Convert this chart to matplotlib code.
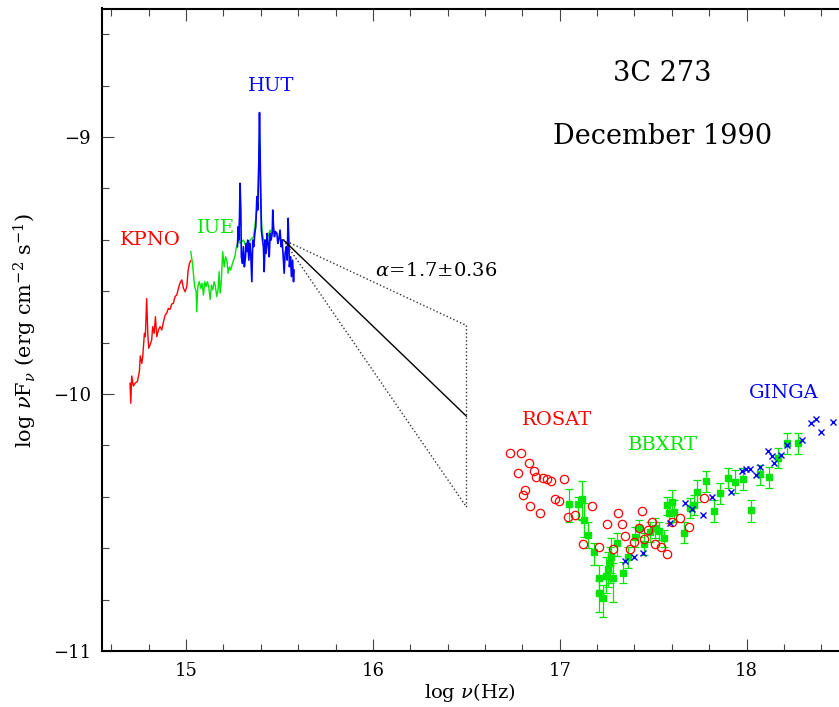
import matplotlib
matplotlib.use("Agg")
import matplotlib.pyplot as plt
from matplotlib.ticker import MultipleLocator, FixedLocator
import numpy as np

plt.rcParams['font.family'] = ['DejaVu Serif']
plt.rcParams['mathtext.fontset'] = 'dejavuserif'

RED = '#ff0000'
GREEN = '#00e600'
BLUE = '#0000ff'

# ---------------- data ----------------
kpno_x = [14.700, 14.704, 14.709, 14.718, 14.727, 14.739, 14.750, 14.755, 14.763, 14.768,
          14.777, 14.782, 14.789, 14.795, 14.800, 14.807, 14.816, 14.821, 14.829, 14.836,
          14.843, 14.852, 14.861, 14.870, 14.879, 14.888, 14.896, 14.905, 14.914, 14.923,
          14.932, 14.941, 14.950, 14.959, 14.968, 14.977, 14.986, 14.995, 15.004, 15.011,
          15.018, 15.025]
kpno_y = [-9.958, -10.036, -9.930, -9.969, -9.958, -9.952, -9.913, -9.852, -9.881, -9.855,
          -9.764, -9.777, -9.629, -9.764, -9.822, -9.809, -9.790, -9.738, -9.764, -9.699,
          -9.777, -9.751, -9.738, -9.751, -9.719, -9.693, -9.686, -9.667, -9.671, -9.650,
          -9.647, -9.621, -9.615, -9.589, -9.567, -9.556, -9.589, -9.602, -9.582, -9.518,
          -9.492, -9.481]

iue_x = [15.025, 15.032, 15.039, 15.046, 15.054, 15.057, 15.063, 15.071, 15.079, 15.086,
         15.093, 15.100, 15.107, 15.114, 15.121, 15.129, 15.136, 15.143, 15.150, 15.157,
         15.164, 15.171, 15.177, 15.182, 15.189, 15.196, 15.204, 15.211, 15.218, 15.225,
         15.232, 15.239, 15.246, 15.254, 15.261, 15.268, 15.275, 15.282,
         15.289, 15.307, 15.325, 15.343, 15.361, 15.379, 15.386, 15.393, 15.398, 15.405,
         15.414, 15.432, 15.450, 15.459]
iue_y = [-9.446, -9.479, -9.530, -9.582, -9.602, -9.680, -9.582, -9.563, -9.589, -9.569,
         -9.615, -9.563, -9.582, -9.563, -9.582, -9.632, -9.576, -9.595, -9.563, -9.582,
         -9.621, -9.595, -9.524, -9.608, -9.556, -9.446, -9.505, -9.466, -9.479, -9.530,
         -9.505, -9.518, -9.498, -9.479, -9.466, -9.433, -9.414, -9.401,
         -9.414, -9.401, -9.433, -9.401, -9.388, -9.284, -9.180, -8.986, -9.180, -9.349,
         -9.401, -9.401, -9.362, -9.375]

hut_x = [15.275, 15.279, 15.282, 15.286, 15.289, 15.293, 15.296, 15.302, 15.307, 15.312,
         15.318, 15.321, 15.325, 15.330, 15.336, 15.341, 15.346, 15.352, 15.357, 15.362,
         15.368, 15.373, 15.379, 15.384, 15.389, 15.393, 15.396, 15.400, 15.403, 15.409,
         15.414, 15.418, 15.423, 15.428, 15.434, 15.439, 15.445, 15.450, 15.455, 15.461,
         15.464, 15.468, 15.473, 15.478, 15.486, 15.491, 15.496, 15.503, 15.509, 15.514,
         15.520, 15.525, 15.530, 15.536, 15.541, 15.546, 15.550, 15.553, 15.559, 15.564,
         15.570, 15.575, 15.578]
hut_y = [-9.427, -9.349, -9.401, -9.310, -9.180, -9.284, -9.466, -9.492, -9.427, -9.505,
         -9.466, -9.414, -9.446, -9.401, -9.479, -9.414, -9.453, -9.563, -9.401, -9.427,
         -9.375, -9.349, -9.232, -9.284, -9.115, -8.905, -9.051, -9.245, -9.362, -9.401,
         -9.427, -9.524, -9.401, -9.453, -9.375, -9.414, -9.466, -9.375, -9.401, -9.375,
         -9.284, -9.349, -9.388, -9.368, -9.375, -9.414, -9.401, -9.362, -9.427, -9.401,
         -9.466, -9.530, -9.453, -9.427, -9.479, -9.316, -9.401, -9.505, -9.466, -9.543,
         -9.479, -9.563, -9.518]

# power law fit
pl_pivot_x = 15.52
pl_pivot_y = -9.40
pl_end_x = 16.5
pl_alpha = 1.7
pl_alpha_err = 0.36

rosat_x = [16.735, 16.793, 16.833, 16.775, 16.860, 16.873, 16.911, 16.932, 16.955, 17.025,
           16.812, 16.803, 16.973, 16.994, 16.843, 16.892, 17.042, 17.084, 17.173, 17.312,
           17.253, 17.334, 17.442, 17.123, 17.212, 17.283, 17.351, 17.374, 17.400, 17.426,
           17.449, 17.475, 17.492, 17.512, 17.543, 17.575, 17.642, 17.601, 17.690, 17.771]
rosat_y = [-10.228, -10.231, -10.270, -10.306, -10.298, -10.322, -10.326, -10.332, -10.337, -10.332,
           -10.374, -10.393, -10.407, -10.416, -10.436, -10.464, -10.477, -10.471, -10.436, -10.464,
           -10.506, -10.506, -10.456, -10.585, -10.594, -10.604, -10.553, -10.604, -10.575, -10.523,
           -10.565, -10.529, -10.497, -10.584, -10.594, -10.623, -10.484, -10.497, -10.516, -10.406]

bbxrt_x = [17.052, 17.096, 17.119, 17.130, 17.149, 17.182, 17.208, 17.208, 17.232, 17.246,
           17.257, 17.267, 17.276, 17.283, 17.307, 17.337, 17.364, 17.405, 17.426, 17.449,
           17.485, 17.512, 17.530, 17.557, 17.575, 17.583, 17.601, 17.614, 17.667, 17.696,
           17.717, 17.732, 17.785, 17.824, 17.860, 17.899, 17.940, 17.980, 18.021, 18.074,
           18.119, 18.167, 18.214, 18.274]
bbxrt_y = [-10.429, -10.429, -10.410, -10.490, -10.549, -10.616, -10.717, -10.776, -10.795, -10.708,
           -10.682, -10.659, -10.633, -10.717, -10.581, -10.698, -10.635, -10.555, -10.523, -10.584,
           -10.536, -10.521, -10.532, -10.560, -10.432, -10.464, -10.419, -10.458, -10.542, -10.445,
           -10.432, -10.380, -10.339, -10.455, -10.386, -10.328, -10.342, -10.332, -10.451, -10.312,
           -10.324, -10.250, -10.192, -10.189]
bbxrt_top = [-10.371, -10.400, -10.337, -10.423, -10.497, -10.581, -10.665, -10.724, -10.743, -10.633,
             -10.614, -10.594, -10.561, -10.659, -10.540, -10.653, -10.594, -10.516, -10.490, -10.542,
             -10.497, -10.484, -10.497, -10.529, -10.400, -10.425, -10.374, -10.412, -10.497, -10.406,
             -10.393, -10.335, -10.298, -10.412, -10.347, -10.289, -10.296, -10.289, -10.412, -10.276,
             -10.283, -10.211, -10.151, -10.151]
bbxrt_bot = [-10.497, -10.486, -10.490, -10.555, -10.600, -10.665, -10.776, -10.847, -10.867, -10.776,
             -10.750, -10.737, -10.698, -10.808, -10.630, -10.737, -10.678, -10.594, -10.555, -10.626,
             -10.575, -10.561, -10.568, -10.594, -10.471, -10.503, -10.464, -10.497, -10.581, -10.484,
             -10.471, -10.419, -10.380, -10.497, -10.428, -10.367, -10.386, -10.374, -10.497, -10.354,
             -10.367, -10.289, -10.233, -10.233]

ginga_x = [17.348, 17.396, 17.444, 17.592, 17.672, 17.709, 17.767, 17.816, 17.917, 17.976,
           17.999, 18.017, 18.048, 18.071, 18.114, 18.137, 18.146, 18.185, 18.217, 18.298,
           18.346, 18.369, 18.396, 18.464]
ginga_y = [-10.650, -10.633, -10.620, -10.503, -10.423, -10.449, -10.471, -10.402, -10.380, -10.298,
           -10.293, -10.293, -10.315, -10.285, -10.221, -10.241, -10.267, -10.237, -10.198, -10.179,
           -10.112, -10.098, -10.149, -10.108]

x_ticks = [15, 16, 17, 18]
y_ticks = [-11, -10, -9]

# ---------------- figure ----------------
W, H = 839, 707
fig = plt.figure(figsize=(W / 100, H / 100), dpi=100)
ax = fig.add_axes([102 / W, (H - 651) / H, (840 - 102) / W, (651 - 8.5) / H])
ax.set_xlim(14.55, 18.5)
ax.set_ylim(-11, -8.5)

ax.plot(kpno_x, kpno_y, color=RED, lw=1.0)
ax.plot(iue_x, iue_y, color=GREEN, lw=1.0)
ax.plot(hut_x, hut_y, color=BLUE, lw=1.2)

# power law with error range
xs = np.array([pl_pivot_x, pl_end_x])
for a, ls, c in [(pl_alpha, '-', 'black'),
                 (pl_alpha - pl_alpha_err, ':', '#333333'),
                 (pl_alpha + pl_alpha_err, ':', '#333333')]:
    ax.plot(xs, pl_pivot_y + (1 - a) * (xs - pl_pivot_x), ls=ls, color=c, lw=1.0)
y_up = pl_pivot_y + (1 - (pl_alpha - pl_alpha_err)) * (pl_end_x - pl_pivot_x)
y_lo = pl_pivot_y + (1 - (pl_alpha + pl_alpha_err)) * (pl_end_x - pl_pivot_x)
ax.plot([pl_end_x, pl_end_x], [y_up, y_lo], ls=':', color='#333333', lw=1.0)

# X-ray data
bx = np.array(bbxrt_x)
by = np.array(bbxrt_y)
yerr = np.vstack([by - np.array(bbxrt_bot), np.array(bbxrt_top) - by])
ax.errorbar(bx, by, yerr=yerr, fmt='s', color=GREEN, ms=4, elinewidth=0.9,
            capsize=3, capthick=0.9, zorder=3)
ax.plot(rosat_x, rosat_y, 'o', mfc='none', mec=RED, ms=6, mew=0.9, zorder=4)
ax.plot(ginga_x, ginga_y, 'x', color=BLUE, ms=4.5, mew=1.0, zorder=4)

# labels
fs = 14
ax.text(14.807, -9.401, 'KPNO', color=RED, fontsize=fs, ha='center', va='center')
ax.text(15.161, -9.354, 'IUE', color=GREEN, fontsize=fs, ha='center', va='center')
ax.text(15.455, -8.802, 'HUT', color=BLUE, fontsize=fs, ha='center', va='center')
ax.text(16.987, -10.101, 'ROSAT', color=RED, fontsize=fs, ha='center', va='center')
ax.text(17.555, -10.198, 'BBXRT', color=GREEN, fontsize=fs, ha='center', va='center')
ax.text(18.198, -9.996, 'GINGA', color=BLUE, fontsize=fs, ha='center', va='center')
ax.text(16.339, -9.521, r'$\alpha\!=\!$1.7$\pm$0.36', color='black', fontsize=14,
        ha='center', va='center')
ax.text(17.550, -8.751, '3C 273', fontsize=19.5, ha='center', va='center')
ax.text(17.550, -9.0, 'December 1990', fontsize=19.5, ha='center', va='center')

# axes styling
for s in ['left', 'bottom', 'top']:
    ax.spines[s].set_linewidth(1.5)
ax.spines['right'].set_visible(False)
ax.xaxis.set_major_locator(FixedLocator(x_ticks))
ax.yaxis.set_major_locator(FixedLocator(y_ticks))
ax.xaxis.set_minor_locator(MultipleLocator(0.2))
ax.yaxis.set_minor_locator(MultipleLocator(0.2))
ax.tick_params(which='both', direction='in', top=True, right=False, color='#444444',
               width=0.8, labelsize=13, pad=8)
ax.tick_params(which='major', length=8.6)
ax.tick_params(which='minor', length=4.8)

fig.text(470 / W, 1 - 692 / H, r'log $\nu$(Hz)', fontsize=14, ha='center', va='center')
fig.text(25 / W, 1 - 330 / H, r'log $\nu$F$_\nu$ (erg cm$^{-2}$ s$^{-1}$)', fontsize=15,
         rotation=90, ha='center', va='center')

fig.savefig('out.png', dpi=100)
